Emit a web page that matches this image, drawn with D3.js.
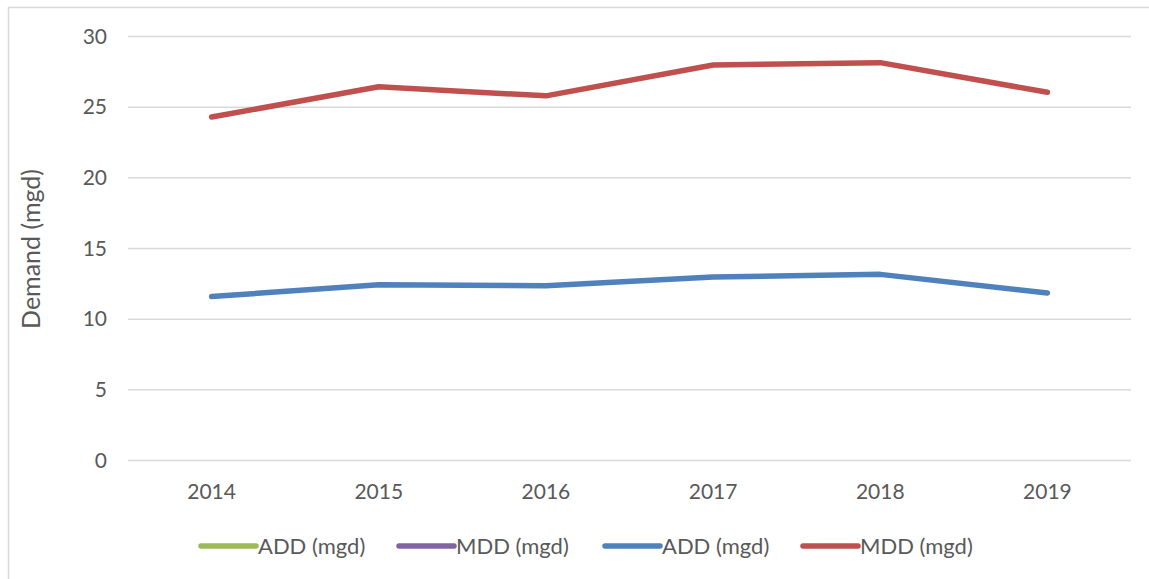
<!DOCTYPE html>
<html>
<head>
<meta charset="utf-8">
<script src="https://cdn.jsdelivr.net/npm/d3@7"></script>
<style>
  html, body { margin: 0; padding: 0; background: #fff; }
  svg { display: block; }
  text { font-family: Lato, "Open Sans", sans-serif; fill: #595959; }
</style>
</head>
<body>
<svg id="chart" width="1149" height="579"></svg>
<script>
// Daily water demand by year (million gallons per day)
const years = ["2014", "2015", "2016", "2017", "2018", "2019"];
const addValues = [11.6, 12.44, 12.37, 12.98, 13.17, 11.85];
const mddValues = [24.3, 26.45, 25.8, 27.98, 28.15, 26.05];
const yTicks = [0, 5, 10, 15, 20, 25, 30];

// Legend entries: the first two series carry no data points
const legendItems = [
  { label: "ADD (mgd)", color: "#9BBB59" },
  { label: "MDD (mgd)", color: "#8064A2" },
  { label: "ADD (mgd)", color: "#4F81BD" },
  { label: "MDD (mgd)", color: "#C0504D" }
];
const series = [
  { values: addValues, color: "#4F81BD" },
  { values: mddValues, color: "#C0504D" }
];

const svg = d3.select("#chart");
const W = 1149, H = 579;
const plot = { left: 128, right: 1131, top: 36.5, bottom: 460.5 };

// Chart area frame
svg.append("rect")
  .attr("x", 8.5).attr("y", 7.5)
  .attr("width", W + 10).attr("height", H + 10)
  .attr("fill", "none").attr("stroke", "#d9d9d9").attr("stroke-width", 1.5);

const x = d3.scaleBand().domain(years).range([plot.left, plot.right]);
const y = d3.scaleLinear().domain([0, 30]).range([plot.bottom, plot.top]);

// Horizontal gridlines
svg.append("g")
  .selectAll("line")
  .data(yTicks)
  .join("line")
  .attr("x1", plot.left).attr("x2", plot.right)
  .attr("y1", d => y(d)).attr("y2", d => y(d))
  .attr("stroke", "#d9d9d9").attr("stroke-width", 1.5);

// Y axis labels
const yAxis = d3.axisLeft(y).tickValues(yTicks).tickSize(0).tickPadding(0);
const gy = svg.append("g").attr("transform", `translate(107,0)`).call(yAxis);
gy.select(".domain").remove();
gy.selectAll("text")
  .style("font-family", "Lato, 'Open Sans', sans-serif")
  .attr("font-size", 21).attr("fill", "#595959");

// X axis labels
const xAxis = d3.axisBottom(x).tickSize(0).tickPadding(0);
const gx = svg.append("g").attr("transform", `translate(0,${plot.bottom})`).call(xAxis);
gx.select(".domain").remove();
gx.selectAll("text")
  .attr("dy", null).attr("y", 38.5)
  .style("font-family", "Lato, 'Open Sans', sans-serif")
  .attr("font-size", 21).attr("fill", "#595959");

// Y axis title
svg.append("text")
  .attr("transform", `translate(40,249) rotate(-90)`)
  .attr("text-anchor", "middle")
  .attr("font-size", 25)
  .text("Demand (mgd)");

// Data lines
const line = d3.line()
  .x((d, i) => x(years[i]) + x.bandwidth() / 2)
  .y(d => y(d));

svg.append("g")
  .selectAll("path")
  .data(series)
  .join("path")
  .attr("d", d => line(d.values))
  .attr("fill", "none")
  .attr("stroke", d => d.color)
  .attr("stroke-width", 5.5)
  .attr("stroke-linecap", "round")
  .attr("stroke-linejoin", "round");

// Legend
const legendX = [201, 399, 605, 803];
const lg = svg.append("g");
legendItems.forEach((item, i) => {
  const g = lg.append("g").attr("transform", `translate(${legendX[i]},546)`);
  g.append("line")
    .attr("x1", 0).attr("x2", 55)
    .attr("stroke", item.color).attr("stroke-width", 5.5)
    .attr("stroke-linecap", "round");
  g.append("text")
    .attr("x", 57).attr("y", 7.5)
    .attr("font-size", 22)
    .text(item.label);
});
</script>
</body>
</html>
